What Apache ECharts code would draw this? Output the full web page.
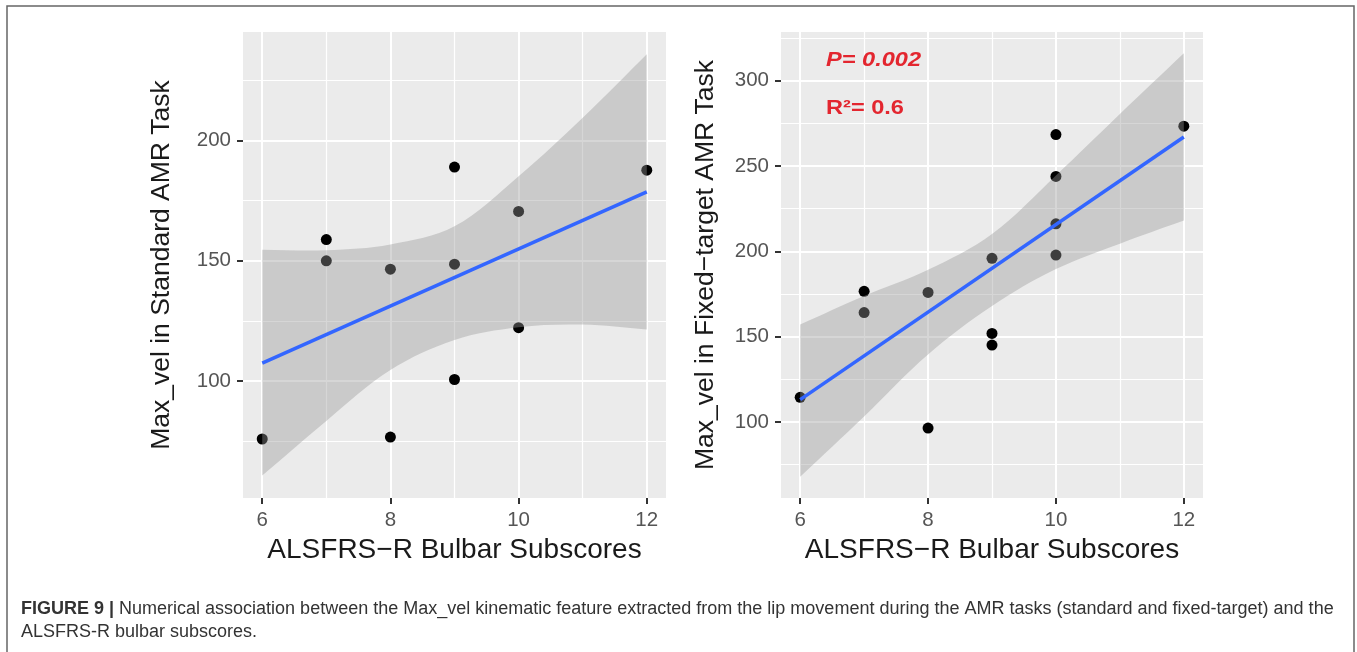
<!DOCTYPE html>
<html><head><meta charset="utf-8">
<script src="https://cdn.jsdelivr.net/npm/echarts@6/dist/echarts.min.js"></script>
<style>html,body{margin:0;padding:0;background:#fff}#chart{width:1357px;height:652px}</style>
</head><body><div id="chart"></div>
<script>
// ---- tick values ----
const xTickValues = [6, 8, 10, 12];
const xMinorValues = [7, 9, 11];
const stdYTickValues = [100, 150, 200];
const stdYMinorValues = [75, 125, 175, 225];
const fixYTickValues = [100, 150, 200, 250, 300];
const fixYMinorValues = [75, 125, 175, 225, 275, 325];

// ---- left panel: standard AMR task ----
const stdX = [6, 7, 7, 8, 8, 9, 9, 9, 10, 10, 12];
const stdY = [76, 158.8, 150, 146.5, 76.8, 188.9, 148.6, 100.7, 170.5, 122.2, 187.6];

// ---- right panel: fixed-target AMR task ----
const fixX = [6, 7, 7, 8, 8, 9, 9, 9, 10, 10, 10, 10, 12];
const fixY = [114.5, 176.6, 164.1, 175.9, 96.5, 195.9, 151.9, 145.1, 268.4, 243.9, 216.1, 197.8, 273.3];

// ---- confidence bands ----
const bandX = [6, 7, 8, 9, 10, 11, 12];
const stdLower = [60.8, 83.5, 104.6, 117.1, 122.4, 123.5, 121.5];
const stdUpper = [154.6, 154.4, 156.8, 164.3, 185.1, 209.4, 235.8];
const fixLower = [68, 103.3, 139.6, 168, 189.6, 204.5, 218];
const fixUpper = [157.2, 173.9, 189.2, 210.2, 244.5, 280.5, 316];

// ---- fitted lines ----
const fitX = [6, 12];
const stdFit = [107.5, 178.6];
const fixFit = [113.1, 267];

// ---- texts ----
const xTitle = 'ALSFRS\u2212R Bulbar Subscores';
const stdYTitle = 'Max_vel in Standard AMR Task';
const fixYTitle = 'Max_vel in Fixed\u2212target AMR Task';
const annotP = 'P= 0.002';
const annotR = 'R\u00b2= 0.6';
const captionBold = 'FIGURE 9 |';
const caption1 = ' Numerical association between the Max_vel kinematic feature extracted from the lip movement during the AMR tasks (standard and fixed-target) and the';
const caption2 = 'ALSFRS-R bulbar subscores.';

const FONT = 'Liberation Sans, Arial, Helvetica, sans-serif';
const X_RANGE = [5.7, 12.3];
const STD_Y_RANGE = [51.5, 245];
const FIX_Y_RANGE = [55.5, 328.5];

function majorX(gridIndex) {
  return {
    type: 'value', gridIndex, min: X_RANGE[0], max: X_RANGE[1], position: 'bottom',
    axisLine: { show: false },
    axisTick: { show: true, length: 6, customValues: xTickValues, lineStyle: { color: '#333', width: 2 } },
    axisLabel: { show: true, customValues: xTickValues, margin: 12, color: '#555', fontSize: 20.5, fontFamily: FONT },
    splitLine: { show: true, lineStyle: { color: '#ffffff', width: 2 } },
    name: xTitle, nameLocation: 'middle', nameGap: 38,
    nameTextStyle: { color: '#1a1a1a', fontSize: 28, fontFamily: FONT }
  };
}
function minorX(gridIndex) {
  return {
    type: 'value', gridIndex, min: X_RANGE[0], max: X_RANGE[1], position: 'top',
    axisLine: { show: false },
    axisTick: { show: false, customValues: xMinorValues },
    axisLabel: { show: false, customValues: xMinorValues },
    splitLine: { show: true, lineStyle: { color: '#ffffff', width: 1.2 } }
  };
}
function majorY(gridIndex, range, ticks, title, gap) {
  return {
    type: 'value', gridIndex, min: range[0], max: range[1], position: 'left',
    axisLine: { show: false },
    axisTick: { show: true, length: 6, customValues: ticks, lineStyle: { color: '#333', width: 2 } },
    axisLabel: { show: true, customValues: ticks, margin: 12, color: '#555', fontSize: 20.5, fontFamily: FONT },
    splitLine: { show: true, lineStyle: { color: '#ffffff', width: 2 } },
    name: title, nameLocation: 'middle', nameGap: gap,
    nameTextStyle: { color: '#1a1a1a', fontSize: 26.5, fontFamily: FONT }
  };
}
function minorY(gridIndex, range, ticks) {
  return {
    type: 'value', gridIndex, min: range[0], max: range[1], position: 'right',
    axisLine: { show: false },
    axisTick: { show: false, customValues: ticks },
    axisLabel: { show: false, customValues: ticks },
    splitLine: { show: true, lineStyle: { color: '#ffffff', width: 1.2 } }
  };
}
// confidence band: one polygon through the read upper and lower edge values
function bandRenderer(lower, upper) {
  return function (params, api) {
    if (params.dataIndex !== 0) return null;
    const top = bandX.map((x, i) => api.coord([x, upper[i]]));
    const bot = bandX.map((x, i) => api.coord([x, lower[i]])).reverse();
    const n = top.length;
    // corner points doubled so the smoothing keeps the vertical ends straight
    const pts = [top[0]].concat(top, [top[n - 1]], [bot[0]], bot, [bot[n - 1]]);
    return {
      type: 'polygon',
      shape: { points: pts, smooth: 0.35 },
      style: { fill: 'rgba(153,153,153,0.4)' }
    };
  };
}
function panelSeries(xi, yi, xs, ys, lower, upper, fit) {
  return [
    { type: 'scatter', xAxisIndex: xi, yAxisIndex: yi, symbolSize: 11, z: 2,
      itemStyle: { color: '#000000', opacity: 1 }, data: xs.map((x, i) => [x, ys[i]]) },
    { type: 'custom', xAxisIndex: xi, yAxisIndex: yi, z: 3, silent: true,
      renderItem: bandRenderer(lower, upper), encode: { x: 0, y: [1, 2] },
      data: bandX.map((x, i) => [x, lower[i], upper[i]]) },
    { type: 'line', xAxisIndex: xi, yAxisIndex: yi, symbol: 'none', z: 4,
      lineStyle: { color: '#3366ff', width: 3.5 }, data: fitX.map((x, i) => [x, fit[i]]) }
  ];
}

const chart = echarts.init(document.getElementById('chart'), null, { renderer: 'canvas' });
chart.setOption({
  animation: false,
  backgroundColor: '#ffffff',
  grid: [
    { left: 243, top: 32, width: 423, height: 466, show: true, backgroundColor: '#ebebeb', borderWidth: 0 },
    { left: 781, top: 32, width: 422, height: 466, show: true, backgroundColor: '#ebebeb', borderWidth: 0 }
  ],
  xAxis: [majorX(0), minorX(0), majorX(1), minorX(1)],
  yAxis: [
    majorY(0, STD_Y_RANGE, stdYTickValues, stdYTitle, 68), minorY(0, STD_Y_RANGE, stdYMinorValues),
    majorY(1, FIX_Y_RANGE, fixYTickValues, fixYTitle, 62), minorY(1, FIX_Y_RANGE, fixYMinorValues)
  ],
  series: [
    ...panelSeries(0, 0, stdX, stdY, stdLower, stdUpper, stdFit),
    ...panelSeries(2, 2, fixX, fixY, fixLower, fixUpper, fixFit)
  ],
  graphic: [
    { type: 'rect', shape: { x: 7, y: 6, width: 1347, height: 660 }, silent: true,
      style: { fill: 'none', stroke: '#666', lineWidth: 1.5 } },
    { type: 'text', x: 826, y: 60, scaleX: 1.15, z: 10,
      style: { text: annotP, fill: '#e3262f', font: 'italic bold 20.5px ' + FONT, verticalAlign: 'middle' } },
    { type: 'text', x: 826, y: 108, scaleX: 1.15, z: 10,
      style: { text: annotR, fill: '#e3262f', font: 'bold 20.5px ' + FONT, verticalAlign: 'middle' } },
    { type: 'text', x: 21, y: 609, z: 10,
      style: { text: '{b|' + captionBold + '}' + caption1, verticalAlign: 'middle', fill: '#333',
        font: '18px ' + FONT,
        rich: { b: { fontWeight: 'bold', fontSize: 18, fontFamily: FONT, fill: '#333' } } } },
    { type: 'text', x: 21, y: 632, z: 10,
      style: { text: caption2, verticalAlign: 'middle', fill: '#333', font: '18px ' + FONT } }
  ]
});
</script></body></html>
